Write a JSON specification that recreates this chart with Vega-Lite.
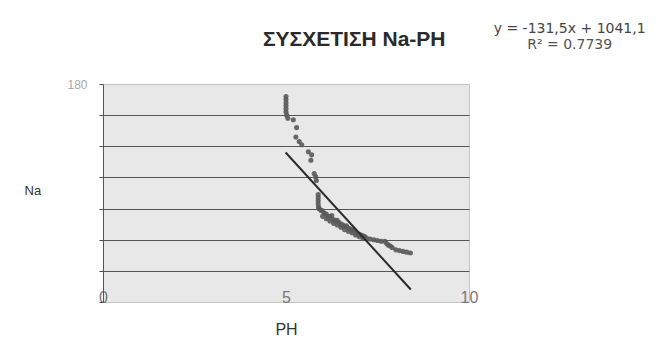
{
  "$schema": "https://vega.github.io/schema/vega-lite/v6.json",
  "autosize": "none",
  "width": 366,
  "height": 218,
  "padding": {"left": 103, "top": 84, "right": 188, "bottom": 48},
  "background": "#ffffff",
  "config": {
    "view": {"fill": "#e8e8e8", "stroke": "#c4c4c4", "strokeWidth": 1},
    "font": "Liberation Sans"
  },
  "title": {
    "text": "ΣΥΣΧΕΤΙΣΗ Na-PH",
    "anchor": "start",
    "frame": "group",
    "dx": 160,
    "offset": -28,
    "font": "Liberation Sans",
    "fontSize": 21,
    "fontWeight": "bold",
    "color": "#2a2a2a"
  },
  "datasets": {
    "points": [
      {"ph": 5.0, "na": 172}, {"ph": 5.0, "na": 170}, {"ph": 5.0, "na": 168}, {"ph": 5.0, "na": 166},
      {"ph": 5.0, "na": 164}, {"ph": 5.0, "na": 162}, {"ph": 5.02, "na": 160}, {"ph": 5.05, "na": 158},
      {"ph": 5.2, "na": 157}, {"ph": 5.29, "na": 152}, {"ph": 5.27, "na": 146}, {"ph": 5.36, "na": 143},
      {"ph": 5.43, "na": 141}, {"ph": 5.61, "na": 136.5}, {"ph": 5.7, "na": 134.5}, {"ph": 5.68, "na": 131},
      {"ph": 5.77, "na": 122.5}, {"ph": 5.81, "na": 120.5}, {"ph": 5.83, "na": 118},
      {"ph": 5.88, "na": 109}, {"ph": 5.88, "na": 107}, {"ph": 5.88, "na": 105}, {"ph": 5.88, "na": 103}, {"ph": 5.89, "na": 101},
      {"ph": 5.9, "na": 100}, {"ph": 5.95, "na": 99}, {"ph": 6.0, "na": 98.5}, {"ph": 6.05, "na": 97},
      {"ph": 6.1, "na": 96.5}, {"ph": 6.15, "na": 95}, {"ph": 6.2, "na": 94.5}, {"ph": 6.25, "na": 95.5},
      {"ph": 6.3, "na": 93}, {"ph": 6.35, "na": 92}, {"ph": 6.4, "na": 92.5}, {"ph": 6.45, "na": 91},
      {"ph": 6.5, "na": 90}, {"ph": 6.55, "na": 89.5}, {"ph": 6.6, "na": 88.5}, {"ph": 6.65, "na": 89},
      {"ph": 6.7, "na": 87.5}, {"ph": 6.75, "na": 87}, {"ph": 6.8, "na": 86}, {"ph": 6.85, "na": 86.5},
      {"ph": 6.9, "na": 85}, {"ph": 6.95, "na": 84}, {"ph": 7.0, "na": 83.5}, {"ph": 7.05, "na": 83},
      {"ph": 7.1, "na": 82.5}, {"ph": 7.15, "na": 82}, {"ph": 7.2, "na": 81}, {"ph": 7.3, "na": 80.5},
      {"ph": 7.4, "na": 80}, {"ph": 7.5, "na": 79.5}, {"ph": 7.6, "na": 79}, {"ph": 7.7, "na": 79},
      {"ph": 7.75, "na": 77.5}, {"ph": 7.8, "na": 76.5}, {"ph": 7.85, "na": 76}, {"ph": 7.9, "na": 75},
      {"ph": 8.0, "na": 73.5}, {"ph": 8.1, "na": 73}, {"ph": 8.2, "na": 72.5}, {"ph": 8.3, "na": 72}, {"ph": 8.4, "na": 71.5},
      {"ph": 6.0, "na": 95}, {"ph": 6.1, "na": 93.5}, {"ph": 6.2, "na": 92}, {"ph": 6.3, "na": 90.5},
      {"ph": 6.4, "na": 89.5}, {"ph": 6.5, "na": 88}, {"ph": 6.6, "na": 86.5}, {"ph": 6.7, "na": 85.5},
      {"ph": 6.8, "na": 84.5}, {"ph": 6.9, "na": 83}, {"ph": 7.0, "na": 82}, {"ph": 7.1, "na": 81}
    ],
    "trend": [
      {"ph": 4.99, "na": 136},
      {"ph": 8.41, "na": 48}
    ]
  },
  "encoding": {
    "x": {
      "type": "quantitative",
      "scale": {"domain": [0, 10], "nice": false},
      "axis": {
        "values": [0, 5, 10],
        "title": "PH",
        "titleFont": "Liberation Sans",
        "titleFontSize": 16,
        "titleFontWeight": "normal",
        "titleColor": "#333333",
        "titleBaseline": "middle",
        "titleY": 39,
        "offset": -12,
        "domain": false,
        "ticks": false,
        "tickSize": 0,
        "grid": false,
        "labelPadding": 7,
        "labelBaseline": "middle",
        "labelFontSize": 16,
        "labelColor": "#777777",
        "labelFlush": false
      }
    },
    "y": {
      "type": "quantitative",
      "scale": {"domain": [40, 180], "nice": false},
      "axis": {
        "values": [40, 60, 80, 100, 120, 140, 160, 180],
        "labelExpr": "datum.value == 180 ? '180' : ''",
        "labelFontSize": 12,
        "labelColor": "#a8a8a8",
        "labelPadding": 12,
        "title": "Na",
        "titleAngle": 0,
        "titleX": -79,
        "titleY": 106,
        "titleAlign": "left",
        "titleBaseline": "middle",
        "titleFont": "Liberation Sans",
        "titleFontSize": 13,
        "titleFontWeight": "normal",
        "titleColor": "#333333",
        "domainColor": "#555555",
        "tickColor": "#555555",
        "tickSize": 4,
        "grid": true,
        "gridColor": "#555555",
        "gridWidth": 1,
        "gridOpacity": {"condition": {"test": "datum.value > 170 || datum.value < 50", "value": 0}, "value": 1}
      }
    }
  },
  "layer": [
    {
      "data": {"name": "points"},
      "mark": {"type": "circle", "color": "#5a5a5a", "opacity": 0.9, "size": 26},
      "encoding": {
        "x": {"field": "ph", "type": "quantitative"},
        "y": {"field": "na", "type": "quantitative"}
      }
    },
    {
      "data": {"name": "trend"},
      "mark": {"type": "line", "color": "#2b2b2b", "strokeWidth": 2},
      "encoding": {
        "x": {"field": "ph", "type": "quantitative"},
        "y": {"field": "na", "type": "quantitative"}
      }
    },
    {
      "data": {"values": [{"text": "y = -131,5x + 1041,1"}]},
      "mark": {"type": "text", "font": "DejaVu Sans", "fontSize": 14, "color": "#444444", "align": "center", "baseline": "middle", "clip": false},
      "encoding": {
        "text": {"field": "text"},
        "x": {"datum": 12.75},
        "y": {"datum": 215.5}
      }
    },
    {
      "data": {"values": [{"text": "R² = 0.7739"}]},
      "mark": {"type": "text", "font": "DejaVu Sans", "fontSize": 14, "color": "#555555", "align": "center", "baseline": "middle", "clip": false},
      "encoding": {
        "text": {"field": "text"},
        "x": {"datum": 12.75},
        "y": {"datum": 204.8}
      }
    }
  ]
}
